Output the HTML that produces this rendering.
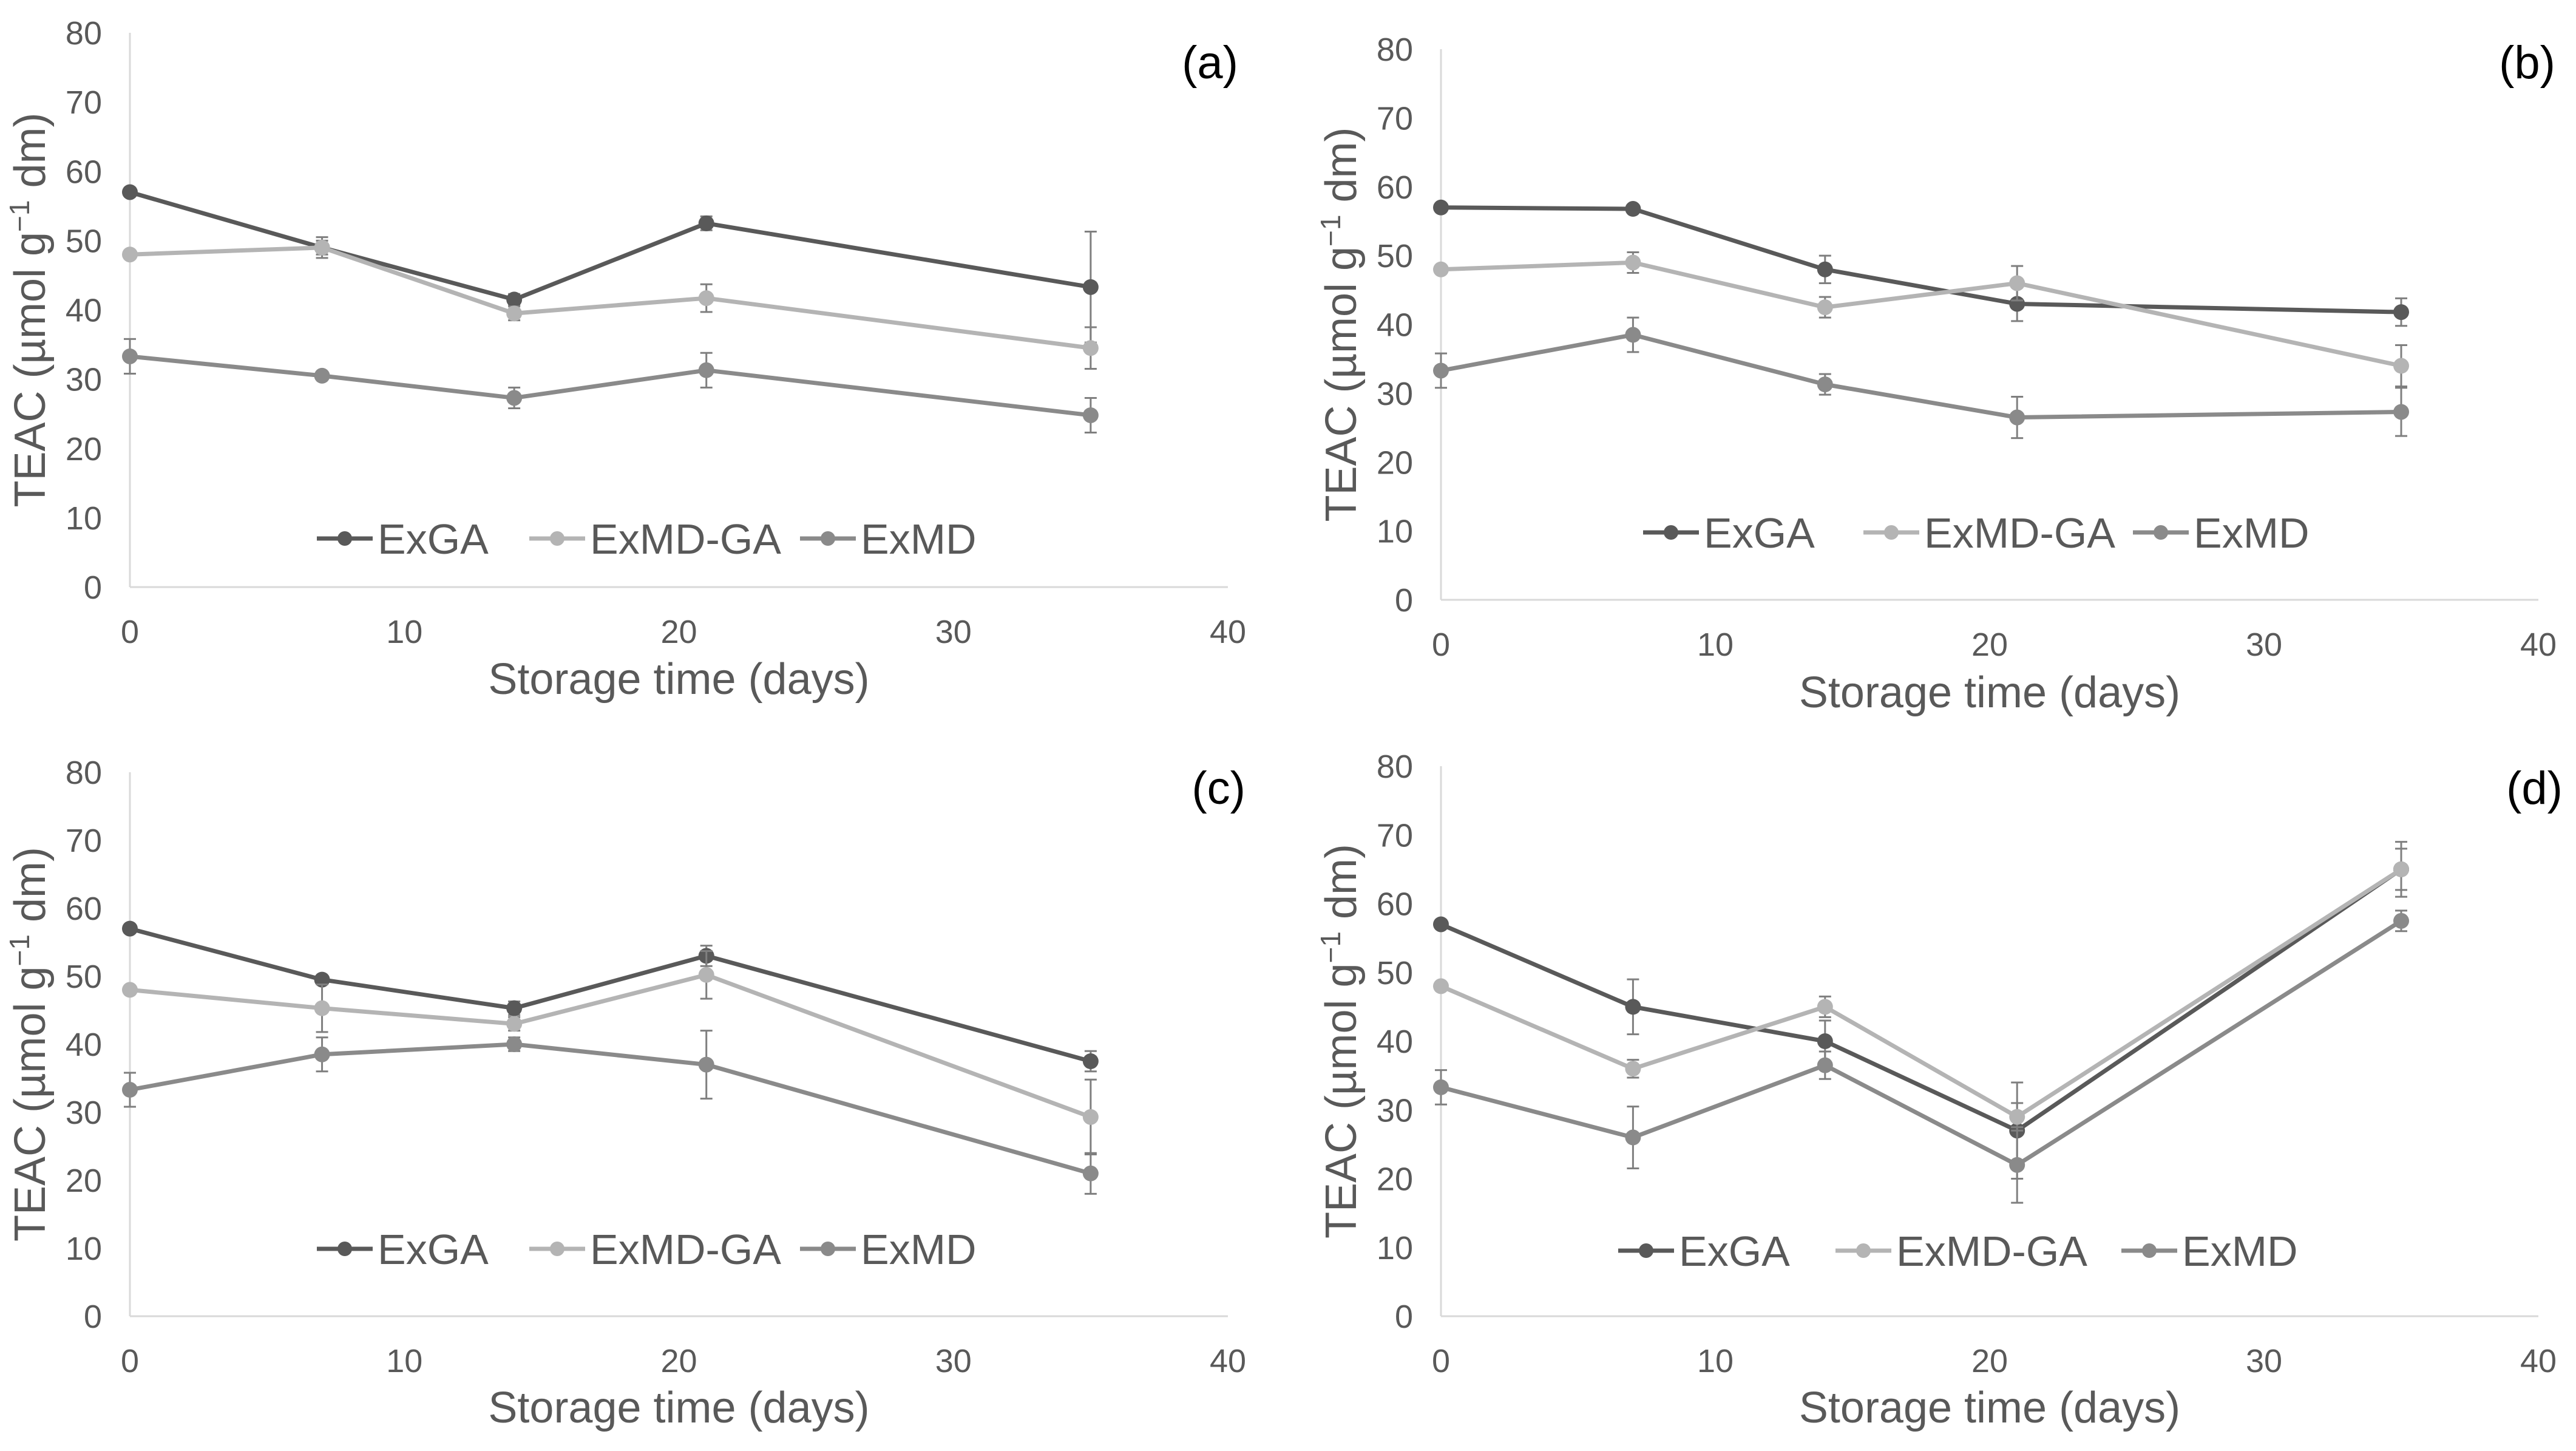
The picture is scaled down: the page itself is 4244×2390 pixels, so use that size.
<!DOCTYPE html>
<html><head><meta charset="utf-8"><style>
html,body{margin:0;padding:0;background:#fff;}
svg{display:block;font-family:"Liberation Sans",Arial,sans-serif;}
</style></head><body>
<svg id="chart" width="4244" height="2390" viewBox="0 0 4244 2390" xmlns="http://www.w3.org/2000/svg"></svg>
<script>
const days = [0, 7, 14, 21, 35];
const seriesNames = ["ExGA", "ExMD-GA", "ExMD"];
const xTicks = [0, 10, 20, 30, 40];
const yTicks = [0, 10, 20, 30, 40, 50, 60, 70, 80];
// panel (a)
const aExGA = [57, 49, 41.5, 52.5, 43.3];
const aExGAErr = [0.5, 1, 0.8, 1, 8];
const aExMDGA = [48, 49, 39.5, 41.7, 34.5];
const aExMDGAErr = [0.5, 1.5, 1, 2, 3];
const aExMD = [33.3, 30.5, 27.3, 31.3, 24.8];
const aExMDErr = [2.5, 0.5, 1.5, 2.5, 2.5];
// panel (b)
const bExGA = [57, 56.8, 48, 43, 41.8];
const bExGAErr = [0.5, 0.5, 2, 2.5, 2];
const bExMDGA = [48, 49, 42.5, 46, 34];
const bExMDGAErr = [0.5, 1.5, 1.5, 2.5, 3];
const bExMD = [33.3, 38.5, 31.3, 26.5, 27.3];
const bExMDErr = [2.5, 2.5, 1.5, 3, 3.5];
// panel (c)
const cExGA = [57, 49.5, 45.3, 53, 37.5];
const cExGAErr = [0.5, 0.5, 1, 1.5, 1.5];
const cExMDGA = [48, 45.3, 43, 50.2, 29.3];
const cExMDGAErr = [0.5, 3.5, 1, 3.5, 5.5];
const cExMD = [33.3, 38.5, 40, 37, 21];
const cExMDErr = [2.5, 2.5, 1, 5, 3];
// panel (d)
const dExGA = [57, 45, 40, 27, 65];
const dExGAErr = [0.5, 4, 3, 7, 4];
const dExMDGA = [48, 36, 45, 29, 65];
const dExMDGAErr = [0.5, 1.3, 1.5, 2, 3];
const dExMD = [33.3, 26, 36.5, 22, 57.5];
const dExMDErr = [2.5, 4.5, 2, 5.5, 1.5];

const colors = ["#595959", "#b4b4b4", "#8a8a8a"];
const NS = "http://www.w3.org/2000/svg";
const svg = document.getElementById("chart");
function mk(tag, attrs, parent){const e=document.createElementNS(NS,tag);for(const k in attrs)e.setAttribute(k,attrs[k]);parent.appendChild(e);return e;}

const panels = [
 {id:"a", x0:214, x1:2023, y0:967, y1:54, leg:[522,872,1318], legY:887, title:1143, lab:[2040,103], data:[[aExGA,aExGAErr],[aExMDGA,aExMDGAErr],[aExMD,aExMDErr]]},
 {id:"b", x0:2374, x1:4182, y0:988, y1:81, leg:[2707,3070,3514], legY:877, title:1165, lab:[4210,103], data:[[bExGA,bExGAErr],[bExMDGA,bExMDGAErr],[bExMD,bExMDErr]]},
 {id:"c", x0:214, x1:2023, y0:2168, y1:1272, leg:[522,872,1318], legY:2057, title:2343, lab:[2052,1298], data:[[cExGA,cExGAErr],[cExMDGA,cExMDGAErr],[cExMD,cExMDErr]]},
 {id:"d", x0:2374, x1:4182, y0:2168, y1:1262, leg:[2666,3024,3495], legY:2060, title:2343, lab:[4222,1298], data:[[dExGA,dExGAErr],[dExMDGA,dExMDGAErr],[dExMD,dExMDErr]]}
];

panels.forEach(p=>{
  const g = mk("g",{},svg);
  
  
  const sx = v => p.x0 + (v/40)*(p.x1-p.x0);
  const sy = v => p.y0 - (v/80)*(p.y0-p.y1);
  const ya = mk("line",{x1:p.x0,y1:p.y1,x2:p.x0,y2:p.y0,stroke:"#d9d9d9","stroke-width":3},g);
  
  
  const xa = mk("line",{x1:p.x0,y1:p.y0,x2:p.x1,y2:p.y0,stroke:"#d9d9d9","stroke-width":3},g);
  
  
  yTicks.forEach(t=>{
    const e = mk("text",{x:p.x0-46,y:sy(t)+19,"text-anchor":"end","font-size":54,fill:"#595959"},g);
    e.textContent = t;
    
    
  });
  xTicks.forEach(t=>{
    const e = mk("text",{x:sx(t),y:p.y0+92,"text-anchor":"middle","font-size":54,fill:"#595959"},g);
    e.textContent = t;
    
    
  });
  const xt = mk("text",{x:(p.x0+p.x1)/2,y:p.title,"text-anchor":"middle","font-size":72,fill:"#595959"},g);
  xt.textContent = "Storage time (days)";
  
  
  const yc = (p.y0+p.y1)/2, yx = p.x0-140;
  const yt = mk("text",{x:0,y:0,"text-anchor":"middle","font-size":72,fill:"#595959",transform:`translate(${yx},${yc}) rotate(-90)`},g);
  yt.innerHTML = 'TEAC (µmol g<tspan dy="-26" font-size="46">−1</tspan><tspan dy="26"> dm)</tspan>';
  
  
  const pl = mk("text",{x:p.lab[0],y:p.lab[1]+26,"text-anchor":"end","font-size":76,fill:"#000"},g);
  pl.textContent = "("+p.id+")";
  
  
  p.data.forEach((sd,si)=>{
    const [vals, errs] = sd;
    const sg = mk("g",{},g);
    
    
    const pts = days.map((d,i)=>sx(d)+","+sy(vals[i])).join(" ");
    const ln = mk("polyline",{points:pts,fill:"none",stroke:colors[si],"stroke-width":7,"stroke-linejoin":"round"},sg);
    
    
    days.forEach((d,i)=>{
      const cx=sx(d), top=sy(vals[i]+errs[i]), bot=sy(vals[i]-errs[i]);
      const eb = mk("path",{d:`M${cx},${top}V${bot}M${cx-10},${top}H${cx+10}M${cx-10},${bot}H${cx+10}`,stroke:"#7f7f7f","stroke-width":3,fill:"none"},sg);
      
      
      const c = mk("circle",{cx:cx,cy:sy(vals[i]),r:13,fill:colors[si]},sg);
      
      
    });
  });
  seriesNames.forEach((n,si)=>{
    const lx = p.leg[si];
    const lg = mk("g",{},g);
    
    
    mk("line",{x1:lx,y1:p.legY,x2:lx+92,y2:p.legY,stroke:colors[si],"stroke-width":7},lg);
    mk("circle",{cx:lx+46,cy:p.legY,r:12,fill:colors[si]},lg);
    const t = mk("text",{x:lx+100,y:p.legY+25,"font-size":70,fill:"#595959"},lg);
    t.textContent = n;
  });
});
</script>
</body></html>
